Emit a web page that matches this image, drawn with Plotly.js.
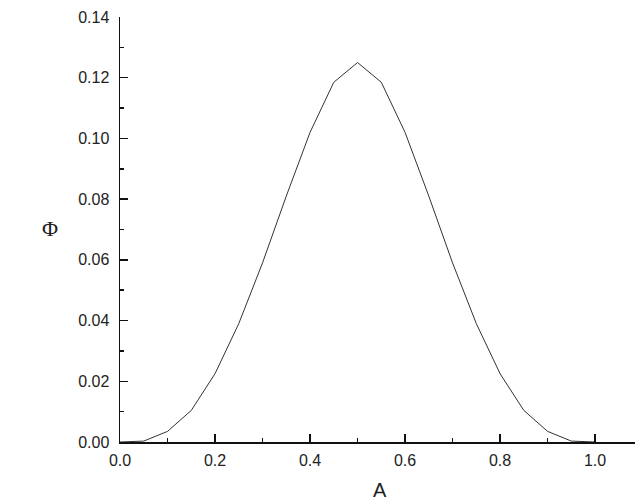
<!DOCTYPE html>
<html>
<head>
<meta charset="utf-8">
<script src="https://cdn.plot.ly/plotly-3.0.1.min.js"></script>
<style>html,body{margin:0;padding:0;background:#fff;}#chart{width:635px;height:502px;}</style>
</head>
<body>
<div id="chart"></div>
<script>
var aValues = [0, 0.05, 0.10, 0.15, 0.20, 0.25, 0.30, 0.35, 0.40, 0.45, 0.50, 0.55, 0.60, 0.65, 0.70, 0.75, 0.80, 0.85, 0.90, 0.95, 1.00];
var phiValues = [0, 0.0003, 0.0035, 0.0104, 0.0225, 0.039, 0.059, 0.081, 0.102, 0.1185, 0.125, 0.1185, 0.102, 0.081, 0.059, 0.039, 0.0225, 0.0104, 0.0035, 0.0003, 0];
var xTitle = "A";
var yTitle = "Φ";

var tickFont = {family: "Liberation Sans, Arial, sans-serif", size: 16, color: "#222"};

var trace = {
  x: aValues, y: phiValues, type: "scatter", mode: "lines",
  line: {color: "#333", width: 1}, hoverinfo: "skip"
};

var layout = {
  width: 635, height: 502,
  margin: {l: 120, r: 0, t: 17, b: 60},
  paper_bgcolor: "#fff", plot_bgcolor: "rgba(0,0,0,0)",
  showlegend: false,
  xaxis: {
    range: [0, 1.084], dtick: 0.2, tick0: 0, tickformat: ".1f",
    showgrid: false, zeroline: false,
    showline: true, linecolor: "#111", linewidth: 1.5,
    ticks: "inside", ticklen: 8, tickwidth: 1.5, tickcolor: "#111",
    minor: {dtick: 0.1, ticks: "inside", ticklen: 4, tickwidth: 1.5, tickcolor: "#111", showgrid: false},
    tickfont: tickFont, ticklabelstandoff: 3
  },
  yaxis: {
    range: [0, 0.14], dtick: 0.02, tick0: 0, tickformat: ".2f",
    showgrid: false, zeroline: false,
    showline: true, linecolor: "#111", linewidth: 1.5,
    ticks: "inside", ticklen: 8, tickwidth: 1.5, tickcolor: "#111",
    minor: {dtick: 0.01, ticks: "inside", ticklen: 4, tickwidth: 1.5, tickcolor: "#111", showgrid: false},
    tickfont: tickFont, ticklabelstandoff: 6
  },
  annotations: [
    {text: yTitle, xref: "paper", yref: "paper", x: (50 - 120) / 515, y: (502 - 60 - 228) / 425,
     xanchor: "center", yanchor: "middle", showarrow: false,
     font: {family: "Liberation Serif, Times New Roman, serif", size: 22, color: "#222"}},
    {text: xTitle, xref: "paper", yref: "paper", x: (380 - 120) / 515, y: -(490 - 442) / 425,
     xanchor: "center", yanchor: "middle", showarrow: false,
     font: {family: "Liberation Sans, Arial, sans-serif", size: 20, color: "#222"}}
  ]
};

Plotly.newPlot("chart", [trace], layout, {staticPlot: true, displayModeBar: false});
</script>
</body>
</html>
